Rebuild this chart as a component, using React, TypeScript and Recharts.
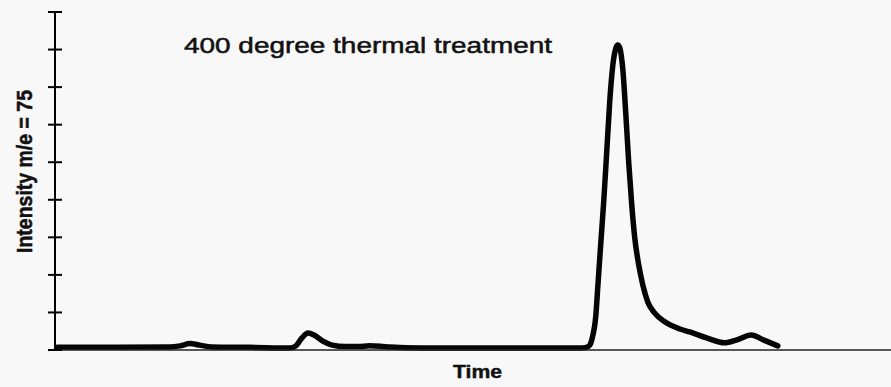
import React from "react";
import { LineChart, Line, XAxis, YAxis } from "recharts";

const timeValues: number[] = [
  0.02, 0.54, 0.95, 1.04, 1.12, 1.2, 1.3, 1.62, 1.95, 2.0, 2.05, 2.1, 2.15, 2.22, 2.3, 2.41, 2.52, 2.61, 2.7, 2.78,
  3.03, 3.69, 4.36, 4.41, 4.44, 4.46, 4.49, 4.506, 4.531, 4.556, 4.581, 4.606, 4.631, 4.656, 4.672, 4.689, 4.714,
  4.739, 4.763, 4.788, 4.813, 4.846, 4.88, 4.921, 4.979, 5.062, 5.187, 5.27, 5.41, 5.56, 5.66, 5.78, 5.88, 6.0,
];
const intensityValues: number[] = [
  0.07, 0.07, 0.08, 0.11, 0.17, 0.13, 0.08, 0.07, 0.05, 0.11, 0.32, 0.45, 0.4, 0.24, 0.13, 0.09, 0.09, 0.11, 0.1, 0.08,
  0.05, 0.05, 0.05, 0.07, 0.13, 0.32, 0.93, 1.68, 2.85, 3.99, 5.32, 6.66, 7.59, 8.04, 8.12, 8.04, 7.46,
  6.26, 4.98, 3.86, 2.98, 2.26, 1.73, 1.28, 0.98, 0.75, 0.56, 0.48, 0.32, 0.19, 0.27, 0.4, 0.27, 0.11,
];
const xTicks: number[] = [0, 1, 2, 3, 4, 5, 6];
const yTicks: number[] = [0, 1, 2, 3, 4, 5, 6, 7, 8, 9];

const titleText = "400 degree thermal treatment";
const xLabelText = "Time";
const yLabelText = "Intensity m/e = 75";

const data = timeValues.map((t, i) => ({ t, v: intensityValues[i] }));

const FONT = "'Liberation Sans', Arial, Helvetica, sans-serif";

const CrossTick = (props: any) => {
  const { x, y } = props;
  return <line x1={x - 7} x2={x + 7} y1={y} y2={y} stroke="#000" strokeWidth={2} />;
};

export default function App() {
  return (
    <div style={{ position: "absolute", left: 0, top: 0, width: 891, height: 387, background: "#f8f8f8" }}>
      <LineChart width={891} height={387} data={data} margin={{ top: 12, right: 0, bottom: 7, left: 15 }}>
        <XAxis
          dataKey="t"
          type="number"
          domain={[0, 6.94]}
          ticks={xTicks}
          allowDataOverflow
          height={30}
          tick={false}
          tickSize={7}
          tickLine={{ stroke: "#111", strokeWidth: 1.5 }}
          axisLine={{ stroke: "#222", strokeWidth: 1.3 }}
        />
        <YAxis
          type="number"
          domain={[0, 9]}
          ticks={yTicks}
          width={40}
          tickSize={0}
          tickMargin={0}
          tickLine={false}
          tick={<CrossTick />}
          axisLine={{ stroke: "#000", strokeWidth: 2 }}
        />
        <Line
          dataKey="v"
          type="monotone"
          stroke="#050505"
          strokeWidth={5.5}
          strokeLinejoin="round"
          strokeLinecap="round"
          dot={false}
          isAnimationActive={false}
        />
      </LineChart>
      <svg
        width={891}
        height={387}
        style={{ position: "absolute", left: 0, top: 0, pointerEvents: "none" }}
      >
        <text
          x={184}
          y={53}
          fontFamily={FONT}
          fontSize={22}
          fill="#111"
          stroke="#111"
          strokeWidth={0.5}
          textLength={368}
          lengthAdjust="spacingAndGlyphs"
        >
          {titleText}
        </text>
        <text
          x={453}
          y={378}
          fontFamily={FONT}
          fontSize={18}
          fontWeight="bold"
          fill="#111"
          stroke="#111"
          strokeWidth={0.4}
          textLength={49}
          lengthAdjust="spacingAndGlyphs"
        >
          {xLabelText}
        </text>
        <text
          x={0}
          y={0}
          transform="translate(32,253) rotate(-90)"
          fontFamily={FONT}
          fontSize={22}
          fontWeight="bold"
          fill="#111"
          stroke="#111"
          strokeWidth={0.5}
          textLength={163}
          lengthAdjust="spacingAndGlyphs"
        >
          {yLabelText}
        </text>
      </svg>
    </div>
  );
}
